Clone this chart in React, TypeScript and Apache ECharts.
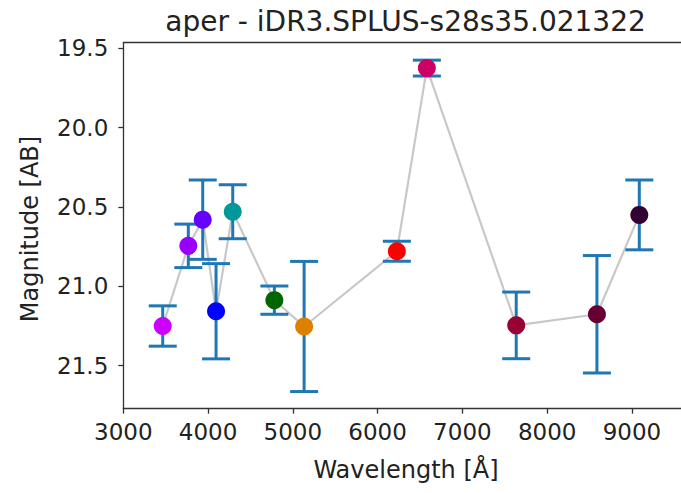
import React, { useEffect, useRef } from "react";
import * as echarts from "echarts";

const titleText = "aper - iDR3.SPLUS-s28s35.021322";
const xLabel = "Wavelength [Å]";
const yLabel = "Magnitude [AB]";

const wavelengths = [3465, 3767, 3937, 4094, 4291, 4782, 5133, 6227, 6581, 7635, 8587, 9087];
const magnitudes = [21.25, 20.745, 20.58, 21.157, 20.53, 21.087, 21.253, 20.779, 19.625, 21.246, 21.176, 20.55];
const errors = [0.127, 0.137, 0.25, 0.3, 0.17, 0.089, 0.41, 0.063, 0.05, 0.21, 0.37, 0.22];
const pointColors = [
  "#CC00FF", "#9900FF", "#6600FF", "#0000FF", "#009999", "#006600",
  "#DD8000", "#FF0000", "#CC0066", "#990033", "#660033", "#330034",
];

const xTicks = [3000, 4000, 5000, 6000, 7000, 8000, 9000];
const yTicks = [19.5, 20.0, 20.5, 21.0, 21.5];

const FONT = "DejaVu Sans";
const AXIS_COLOR = "#333333";
const TEXT_COLOR = "#222222";

export default function App() {
  const ref = useRef<HTMLDivElement>(null);

  useEffect(() => {
    document.body.style.margin = "0";
    const chart = echarts.init(ref.current!, null, { renderer: "svg" });

    const pts = wavelengths.map((w, i) => [w, magnitudes[i]]);
    const errData = wavelengths.map((w, i) => [w, magnitudes[i], errors[i]]);

    const option: any = {
      animation: false,
      backgroundColor: "#ffffff",
      grid: {
        left: 123.3,
        top: 42.7,
        width: 565,
        height: 366,
        containLabel: false,
        outerBoundsMode: "none",
      },
      xAxis: [
        {
          type: "value",
          min: 3000,
          max: 9665,
          position: "bottom",
          axisLine: { show: true, lineStyle: { color: AXIS_COLOR, width: 1.3 } },
          axisTick: {
            show: true,
            inside: false,
            length: 5,
            lineStyle: { color: AXIS_COLOR, width: 1.3 },
            customValues: xTicks,
          },
          axisLabel: {
            show: true,
            margin: 12,
            color: TEXT_COLOR,
            fontFamily: FONT,
            fontSize: 23,
            customValues: xTicks,
            formatter: (v: number) => String(Math.round(v)),
          },
          splitLine: { show: false },
        },
        {
          type: "value",
          min: 3000,
          max: 9665,
          position: "top",
          axisLine: { show: true, onZero: false, lineStyle: { color: AXIS_COLOR, width: 1.3 } },
          axisTick: { show: false },
          axisLabel: { show: false },
          splitLine: { show: false },
        },
      ],
      yAxis: {
        type: "value",
        inverse: true,
        min: 19.465,
        max: 21.771,
        axisLine: { show: true, onZero: false, lineStyle: { color: AXIS_COLOR, width: 1.3 } },
        axisTick: {
          show: true,
          inside: false,
          length: 5,
          lineStyle: { color: AXIS_COLOR, width: 1.3 },
          customValues: yTicks,
        },
        axisLabel: {
          show: true,
          margin: 15,
          color: TEXT_COLOR,
          fontFamily: FONT,
          fontSize: 23,
          customValues: yTicks,
          formatter: (v: number) => v.toFixed(1),
        },
        splitLine: { show: false },
      },
      series: [
        {
          type: "line",
          data: pts,
          xAxisIndex: 0,
          symbol: "none",
          z: 1,
          lineStyle: { color: "#c8c8c8", width: 2.2 },
        },
        {
          type: "custom",
          xAxisIndex: 0,
          data: errData,
          encode: { x: 0, y: 1 },
          z: 2,
          renderItem: (params: any, api: any) => {
            const x = api.value(0);
            const y = api.value(1);
            const e = api.value(2);
            const top = api.coord([x, y - e]);
            const bot = api.coord([x, y + e]);
            const cap = 14;
            const style = { stroke: "#1f77b4", lineWidth: 3 };
            return {
              type: "group",
              children: [
                { type: "line", shape: { x1: top[0], y1: top[1], x2: bot[0], y2: bot[1] }, style },
                { type: "line", shape: { x1: top[0] - cap, y1: top[1], x2: top[0] + cap, y2: top[1] }, style },
                { type: "line", shape: { x1: bot[0] - cap, y1: bot[1], x2: bot[0] + cap, y2: bot[1] }, style },
              ],
            };
          },
        },
        {
          type: "scatter",
          xAxisIndex: 0,
          z: 3,
          symbolSize: 18,
          data: pts.map((p, i) => ({ value: p, itemStyle: { color: pointColors[i], opacity: 1 } })),
        },
      ],
      graphic: [
        {
          type: "text",
          x: 405.5,
          y: 21,
          style: {
            text: titleText,
            fontFamily: FONT,
            fontSize: 28,
            fill: TEXT_COLOR,
            textAlign: "center",
            textVerticalAlign: "middle",
          },
        },
        {
          type: "text",
          x: 406,
          y: 470,
          style: {
            text: xLabel,
            fontFamily: FONT,
            fontSize: 24,
            fill: TEXT_COLOR,
            textAlign: "center",
            textVerticalAlign: "middle",
          },
        },
        {
          type: "text",
          x: 30,
          y: 229,
          rotation: Math.PI / 2,
          style: {
            text: yLabel,
            fontFamily: FONT,
            fontSize: 24,
            fill: TEXT_COLOR,
            textAlign: "center",
            textVerticalAlign: "middle",
          },
        },
      ],
    };

    chart.setOption(option);
    return () => chart.dispose();
  }, []);

  return <div ref={ref} style={{ width: 681, height: 493, overflow: "hidden" }} />;
}
